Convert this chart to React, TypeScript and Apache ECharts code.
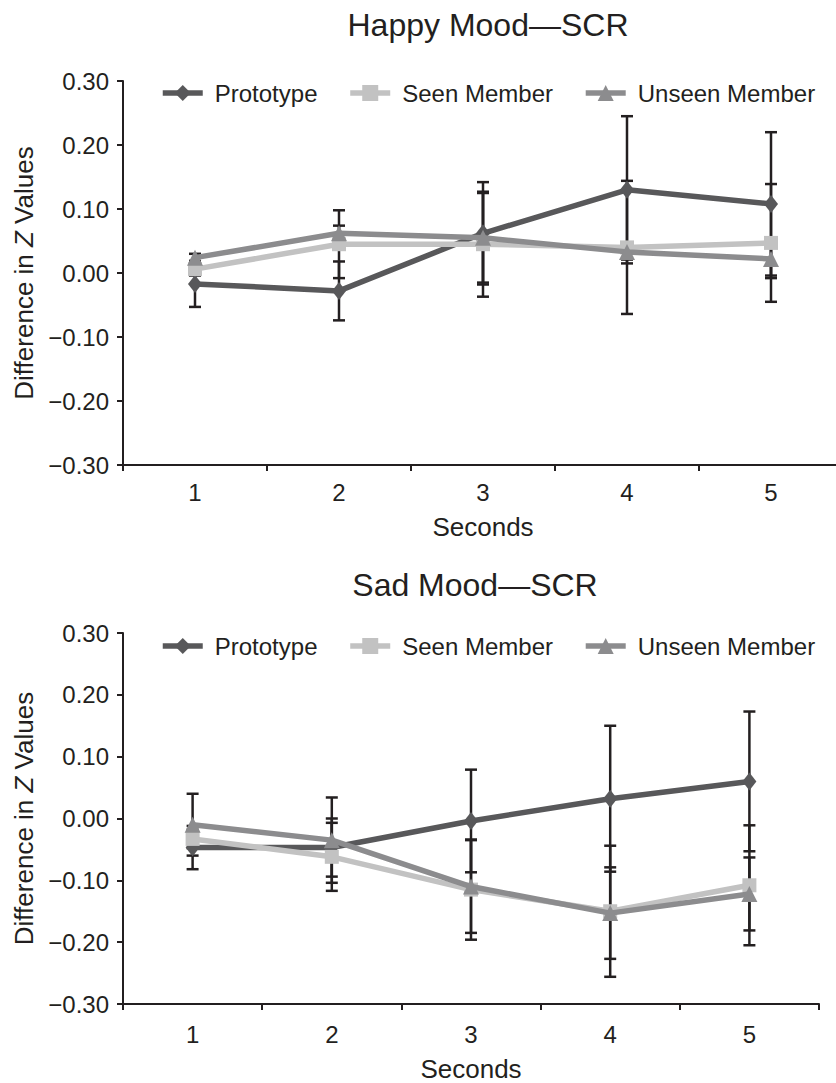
import React, { useEffect, useRef } from "react";
import * as echarts from "echarts";

const categories = ["1", "2", "3", "4", "5"];
const seriesNames = ["Prototype", "Seen Member", "Unseen Member"];
const yTicks = [-0.3, -0.2, -0.1, 0, 0.1, 0.2, 0.3];

// Happy Mood — SCR
const happyPrototype = [-0.017, -0.028, 0.062, 0.130, 0.108];
const happyPrototypeErr = [0.036, 0.046, 0.080, 0.115, 0.112];
const happySeen = [0.006, 0.045, 0.045, 0.040, 0.047];
const happySeenErr = [0.010, 0.053, 0.082, 0.104, 0.092];
const happyUnseen = [0.024, 0.062, 0.055, 0.033, 0.022];
const happyUnseenErr = [0.006, 0.012, 0.070, 0.012, 0.030];

// Sad Mood — SCR
const sadPrototype = [-0.047, -0.047, -0.004, 0.032, 0.060];
const sadPrototypeErr = [0.035, 0.047, 0.083, 0.118, 0.113];
const sadSeen = [-0.033, -0.062, -0.115, -0.150, -0.108];
const sadSeenErr = [0.015, 0.055, 0.081, 0.106, 0.097];
const sadUnseen = [-0.010, -0.035, -0.110, -0.153, -0.122];
const sadUnseenErr = [0.050, 0.069, 0.075, 0.074, 0.059];

const FONT = "Liberation Sans, Arial, Helvetica, sans-serif";
const INK = "#231f20";
const colors = ["#58585a", "#c2c2c2", "#8c8c8e"];
const symbols = ["diamond", "rect", "triangle"];
const symbolSizes: any[] = [[14, 18], 14, 16];

function fmt(v: number) {
  const r = Math.round(v * 100) / 100;
  return (r < 0 ? "\u2212" : "") + Math.abs(r).toFixed(2);
}

function errData(means: number[], errs: number[]) {
  return means.map((m, i) => [i, m - errs[i], m + errs[i]]);
}

function errorSeries(means: number[], errs: number[], gi: number) {
  return {
    type: "custom",
    xAxisIndex: gi,
    yAxisIndex: gi,
    z: 1,
    silent: true,
    encode: { x: 0, y: [1, 2] },
    data: errData(means, errs),
    renderItem: (params: any, api: any) => {
      const x = api.value(0);
      const lo = api.coord([x, api.value(1)]);
      const hi = api.coord([x, api.value(2)]);
      const w = 6;
      const st = { stroke: INK, lineWidth: 2.5 };
      return {
        type: "group",
        children: [
          { type: "line", shape: { x1: lo[0], y1: lo[1], x2: hi[0], y2: hi[1] }, style: st },
          { type: "line", shape: { x1: lo[0] - w, y1: lo[1], x2: lo[0] + w, y2: lo[1] }, style: st },
          { type: "line", shape: { x1: hi[0] - w, y1: hi[1], x2: hi[0] + w, y2: hi[1] }, style: st },
        ],
      };
    },
  };
}

function lineSeries(idx: number, data: number[], gi: number) {
  return {
    type: "line",
    name: seriesNames[idx],
    xAxisIndex: gi,
    yAxisIndex: gi,
    z: 3 + idx,
    data,
    symbol: symbols[idx],
    symbolSize: symbolSizes[idx],
    lineStyle: { color: colors[idx], width: 5.5 },
    itemStyle: { color: colors[idx] },
    emphasis: { disabled: true },
  };
}

function xAxis(gi: number, labelMargin: number, nameGap: number) {
  return {
    type: "category",
    gridIndex: gi,
    data: categories,
    boundaryGap: true,
    name: "Seconds",
    nameLocation: "middle",
    nameGap,
    nameTextStyle: { fontFamily: FONT, fontSize: 26, color: INK },
    axisLine: { onZero: false, lineStyle: { color: INK, width: 2 } },
    axisTick: { show: true, length: 6, lineStyle: { color: INK, width: 2 } },
    axisLabel: { fontFamily: FONT, fontSize: 24, color: INK, margin: labelMargin },
    splitLine: { show: false },
  };
}

function yAxis(gi: number) {
  return {
    type: "value",
    gridIndex: gi,
    min: yTicks[0],
    max: yTicks[yTicks.length - 1],
    interval: 0.1,
    name: "Difference in {i|Z} Values",
    nameLocation: "middle",
    nameGap: 86,
    nameTextStyle: {
      fontFamily: FONT,
      fontSize: 26,
      color: INK,
      rich: { i: { fontFamily: FONT, fontSize: 26, color: INK, fontStyle: "italic" } },
    },
    axisLine: { show: true, onZero: false, lineStyle: { color: INK, width: 2 } },
    axisTick: { show: true, length: 6, lineStyle: { color: INK, width: 2 } },
    axisLabel: { fontFamily: FONT, fontSize: 24, color: INK, margin: 14, formatter: fmt },
    splitLine: { show: false },
  };
}

function legend(top: number) {
  return {
    left: 160,
    top,
    padding: 0,
    itemWidth: 40,
    itemHeight: 20,
    itemGap: 30,
    selectedMode: false,
    data: seriesNames,
    lineStyle: { width: 5.5 },
    textStyle: { fontFamily: FONT, fontSize: 24, color: INK, padding: [0, 0, 0, 7] },
  };
}

export default function App() {
  const ref = useRef<HTMLDivElement>(null);
  useEffect(() => {
    if (!ref.current) return;
    const chart = echarts.init(ref.current, undefined, { renderer: "svg" });
    chart.setOption({
      animation: false,
      backgroundColor: "#ffffff",
      title: [
        {
          text: "Happy Mood\u2014SCR",
          left: 483,
          top: 4,
          textAlign: "center",
          textStyle: { fontFamily: FONT, fontSize: 32, fontWeight: "normal", color: INK },
        },
        {
          text: "Sad Mood\u2014SCR",
          left: 470,
          top: 564,
          textAlign: "center",
          textStyle: { fontFamily: FONT, fontSize: 32, fontWeight: "normal", color: INK },
        },
      ],
      legend: [legend(81), legend(634)],
      grid: [
        { left: 123, top: 81, width: 720, height: 384, containLabel: false },
        { left: 123, top: 633, width: 696, height: 375, containLabel: false },
      ],
      xAxis: [xAxis(0, 15, 49), xAxis(1, 18, 52)],
      yAxis: [yAxis(0), yAxis(1)],
      series: [
        errorSeries(happyPrototype, happyPrototypeErr, 0),
        errorSeries(happySeen, happySeenErr, 0),
        errorSeries(happyUnseen, happyUnseenErr, 0),
        lineSeries(0, happyPrototype, 0),
        lineSeries(1, happySeen, 0),
        lineSeries(2, happyUnseen, 0),
        errorSeries(sadPrototype, sadPrototypeErr, 1),
        errorSeries(sadSeen, sadSeenErr, 1),
        errorSeries(sadUnseen, sadUnseenErr, 1),
        lineSeries(0, sadPrototype, 1),
        lineSeries(1, sadSeen, 1),
        lineSeries(2, sadUnseen, 1),
      ],
    });
    return () => chart.dispose();
  }, []);
  return (
    <div
      style={{
        position: "absolute",
        left: 0,
        top: 0,
        width: 836,
        height: 1083,
        overflow: "hidden",
        background: "#fff",
      }}
    >
      <div ref={ref} style={{ width: 860, height: 1083 }} />
    </div>
  );
}
